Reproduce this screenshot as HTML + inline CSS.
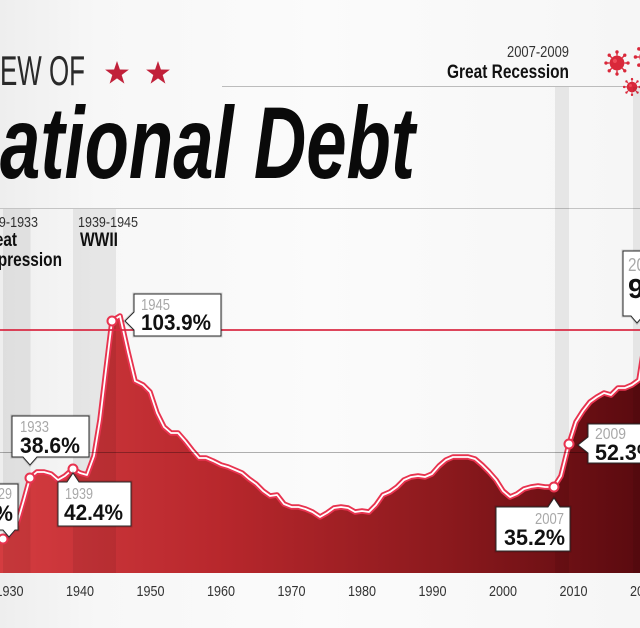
<!DOCTYPE html>
<html><head><meta charset="utf-8"><style>
html,body{margin:0;padding:0;background:#f7f7f7;}
svg{display:block;}
text{font-family:"Liberation Sans",Arial,sans-serif;}
</style></head><body>
<svg width="640" height="628" viewBox="0 0 640 628" xmlns="http://www.w3.org/2000/svg">
<defs>
<linearGradient id="bg" x1="0" y1="0" x2="1" y2="0">
<stop offset="0" stop-color="#eeeeee"/><stop offset="0.15" stop-color="#f7f7f7"/><stop offset="0.5" stop-color="#fbfbfb"/><stop offset="1" stop-color="#f6f6f6"/>
</linearGradient>
<linearGradient id="fill" x1="0" y1="0" x2="640" y2="0" gradientUnits="userSpaceOnUse">
<stop offset="0" stop-color="#d43c40"/><stop offset="0.35" stop-color="#b7272c"/><stop offset="0.7" stop-color="#8b191d"/><stop offset="1" stop-color="#5a0a0f"/>
</linearGradient>
<path id="ln" fill="none" d="M-10,541 L-5,540 L3,539 L10,534 L17,524 L24,500 L30,478 L37,472 L44,472 L51,474 L58,480 L65,476 L73,469 L80,473 L87,475 L94,456 L100,420 L106,370 L112,321 L120,316 L128,352 L135,381 L143,385 L150,392 L157,413 L164,427 L171,433 L178,433 L185,441 L192,450 L199,458 L206,458 L213,461 L221,465 L228,467 L235,470 L242,473 L249,479 L256,484 L263,491 L270,496 L277,495 L284,504 L291.5,507 L298.5,507 L305.5,509 L312.5,512 L320,517 L327,513 L334,508 L341,507 L348,508 L355,512 L362,511 L369,512 L376,505 L383,495 L390,492 L397,487 L404,480 L411,477 L418,476 L425,477 L432,474 L439,466 L446,460 L453,457 L461,457 L468,457 L475,459 L482,465 L489,472 L496,480 L503,491 L510,497 L517,494 L524,489 L531,487 L538,486 L545,487 L554,487 L561,476 L569,444 L576,422 L583,411 L590,402 L597,397 L604,393 L611,395 L618,388 L625,388 L632,385 L639,380 L646,335"/>
<g id="virus">
<circle r="7" fill="#d9283a"/>
<g stroke="#d9283a" stroke-width="1.3">
<line x1="0" y1="-7" x2="0" y2="-10"/><line x1="0" y1="7" x2="0" y2="10"/><line x1="-7" y1="0" x2="-10" y2="0"/><line x1="7" y1="0" x2="10" y2="0"/>
<line x1="5" y1="5" x2="7" y2="7"/><line x1="-5" y1="5" x2="-7" y2="7"/><line x1="5" y1="-5" x2="7" y2="-7"/><line x1="-5" y1="-5" x2="-7" y2="-7"/>
</g>
<g fill="#d9283a"><circle cx="0" cy="-10.5" r="1.6"/><circle cx="0" cy="10.5" r="1.6"/><circle cx="-10.5" cy="0" r="1.6"/><circle cx="10.5" cy="0" r="1.6"/><circle cx="7.4" cy="7.4" r="1.6"/><circle cx="-7.4" cy="7.4" r="1.6"/><circle cx="7.4" cy="-7.4" r="1.6"/><circle cx="-7.4" cy="-7.4" r="1.6"/></g>
<circle cx="-2" cy="-2" r="2" fill="#ee4a58"/>
</g>
</defs>
<rect width="640" height="628" fill="url(#bg)"/>

<!-- header -->
<text x="0" y="85" font-size="42" fill="#2a2a2a" textLength="85" lengthAdjust="spacingAndGlyphs">EW OF</text>
<polygon fill="#c1213a" points="117,61 119.9,69.5 128.9,69.6 121.7,75 124.4,83.6 117,78.4 109.6,83.6 112.3,75 105.1,69.6 114.1,69.5"/>
<polygon fill="#c1213a" points="158,61 160.9,69.5 169.9,69.6 162.7,75 165.4,83.6 158,78.4 150.6,83.6 153.3,75 146.1,69.6 155.1,69.5"/>
<line x1="222" y1="86.5" x2="640" y2="86.5" stroke="#bcbcbc" stroke-width="1"/>
<text x="0" y="178" font-size="102" font-weight="bold" font-style="italic" fill="#0a0a0a" textLength="415" lengthAdjust="spacingAndGlyphs">ational Debt</text>
<line x1="0" y1="208.5" x2="640" y2="208.5" stroke="#c4c4c4" stroke-width="1"/>

<text x="507" y="57" font-size="16" fill="#333" textLength="62" lengthAdjust="spacingAndGlyphs">2007-2009</text>
<text x="447" y="78" font-size="19" font-weight="bold" fill="#111" textLength="122" lengthAdjust="spacingAndGlyphs">Great Recession</text>

<g transform="translate(617,63) scale(1.05)"><use href="#virus"/></g>
<g transform="translate(647,57) scale(1.1)"><use href="#virus"/></g>
<g transform="translate(632,87) scale(0.75)"><use href="#virus"/></g>

<text x="-22" y="227" font-size="15" fill="#333" textLength="60" lengthAdjust="spacingAndGlyphs">1929-1933</text>
<text x="-23" y="246" font-size="19" font-weight="bold" fill="#111" textLength="40" lengthAdjust="spacingAndGlyphs">Great</text>
<text x="-22" y="266" font-size="19" font-weight="bold" fill="#111" textLength="84" lengthAdjust="spacingAndGlyphs">Depression</text>
<text x="78" y="227" font-size="15" fill="#333" textLength="60" lengthAdjust="spacingAndGlyphs">1939-1945</text>
<text x="80" y="246" font-size="19" font-weight="bold" fill="#111" textLength="38" lengthAdjust="spacingAndGlyphs">WWII</text>

<!-- area -->
<path fill="url(#fill)" d="M-10,573 L-10,541 L-5,540 L3,539 L10,534 L17,524 L24,500 L30,478 L37,472 L44,472 L51,474 L58,480 L65,476 L73,469 L80,473 L87,475 L94,456 L100,420 L106,370 L112,321 L120,316 L128,352 L135,381 L143,385 L150,392 L157,413 L164,427 L171,433 L178,433 L185,441 L192,450 L199,458 L206,458 L213,461 L221,465 L228,467 L235,470 L242,473 L249,479 L256,484 L263,491 L270,496 L277,495 L284,504 L291.5,507 L298.5,507 L305.5,509 L312.5,512 L320,517 L327,513 L334,508 L341,507 L348,508 L355,512 L362,511 L369,512 L376,505 L383,495 L390,492 L397,487 L404,480 L411,477 L418,476 L425,477 L432,474 L439,466 L446,460 L453,457 L461,457 L468,457 L475,459 L482,465 L489,472 L496,480 L503,491 L510,497 L517,494 L524,489 L531,487 L538,486 L545,487 L554,487 L561,476 L569,444 L576,422 L583,411 L590,402 L597,397 L604,393 L611,395 L618,388 L625,388 L632,385 L639,380 L646,335 L650,335 L650,573 Z"/>

<!-- bands (over background and fill) -->
<g fill="#000" fill-opacity="0.065">
<rect x="3" y="209" width="27.5" height="364"/>
<rect x="73" y="209" width="43" height="364"/>
<rect x="555" y="87" width="14" height="486"/>
<rect x="633" y="87" width="10" height="486"/>
</g>

<use href="#ln" stroke="#e8334f" stroke-width="5.5" stroke-linejoin="round"/>
<use href="#ln" stroke="#ffffff" stroke-width="1.8" stroke-linejoin="round"/>

<!-- reference lines -->
<line x1="0" y1="452.5" x2="640" y2="452.5" stroke="#000" stroke-opacity="0.3" stroke-width="1"/>
<line x1="0" y1="330" x2="640" y2="330" stroke="#d8263f" stroke-opacity="0.85" stroke-width="2"/>

<!-- axis labels -->
<g font-size="15" fill="#333" text-anchor="middle">
<text x="9.5" y="596" textLength="28" lengthAdjust="spacingAndGlyphs">1930</text>
<text x="80" y="596" textLength="28" lengthAdjust="spacingAndGlyphs">1940</text>
<text x="150.5" y="596" textLength="28" lengthAdjust="spacingAndGlyphs">1950</text>
<text x="221" y="596" textLength="28" lengthAdjust="spacingAndGlyphs">1960</text>
<text x="291.5" y="596" textLength="28" lengthAdjust="spacingAndGlyphs">1970</text>
<text x="362" y="596" textLength="28" lengthAdjust="spacingAndGlyphs">1980</text>
<text x="432.5" y="596" textLength="28" lengthAdjust="spacingAndGlyphs">1990</text>
<text x="503" y="596" textLength="28" lengthAdjust="spacingAndGlyphs">2000</text>
<text x="573.5" y="596" textLength="28" lengthAdjust="spacingAndGlyphs">2010</text>
<text x="644" y="596" textLength="28" lengthAdjust="spacingAndGlyphs">2020</text>
</g>

<!-- circles -->
<g fill="#fff" stroke="#e8334f" stroke-width="2">
<circle cx="3" cy="539" r="4.5"/>
<circle cx="30" cy="478" r="4.5"/>
<circle cx="73" cy="469" r="4.5"/>
<circle cx="112" cy="321" r="4.5"/>
<circle cx="554" cy="487" r="4.5"/>
<circle cx="569" cy="444" r="4.5"/>
</g>

<!-- callout boxes -->
<g fill="#fff" stroke-linejoin="miter">
<g stroke="#000" stroke-opacity="0.15" stroke-width="3">
<path d="M134,294 H221 V336 H134 V330 L125,321 L134,312 Z"/>
<path d="M12,416 H89 V457 H37 L30,465 L23,457 H12 Z"/>
<path d="M58,482 H67 L73,473 L79,482 H131 V526 H58 Z"/>
<path d="M-60,484 H18 V530 H15 L9,537 L3,530 H-60 Z"/>
<path d="M496,507 H548 L554,498 L560,507 H570 V551 H496 Z"/>
<path d="M588,424 H700 V463 H588 V453 L578,445 L588,437 Z"/>
<path d="M623,251 H720 V316 H643 L637,323 L631,316 H623 Z"/>
</g>
<g stroke="#2a2a2a" stroke-width="1">
<path d="M134,294 H221 V336 H134 V330 L125,321 L134,312 Z"/>
<path d="M12,416 H89 V457 H37 L30,465 L23,457 H12 Z"/>
<path d="M58,482 H67 L73,473 L79,482 H131 V526 H58 Z"/>
<path d="M-60,484 H18 V530 H15 L9,537 L3,530 H-60 Z"/>
<path d="M496,507 H548 L554,498 L560,507 H570 V551 H496 Z"/>
<path d="M588,424 H700 V463 H588 V453 L578,445 L588,437 Z"/>
<path d="M623,251 H720 V316 H643 L637,323 L631,316 H623 Z"/>
</g>
</g>

<g fill="#a8a8a8" font-size="16">
<text x="141" y="310" textLength="29" lengthAdjust="spacingAndGlyphs">1945</text>
<text x="20" y="432" textLength="29" lengthAdjust="spacingAndGlyphs">1933</text>
<text x="65" y="499" textLength="28" lengthAdjust="spacingAndGlyphs">1939</text>
<text x="12" y="499" text-anchor="end" textLength="28" lengthAdjust="spacingAndGlyphs">1929</text>
<text x="564" y="524" text-anchor="end" textLength="29" lengthAdjust="spacingAndGlyphs">2007</text>
<text x="595" y="439" textLength="31" lengthAdjust="spacingAndGlyphs">2009</text>
<text x="628" y="271" font-size="18" textLength="34" lengthAdjust="spacingAndGlyphs">2020</text>
</g>
<g fill="#111" font-size="22" font-weight="bold">
<text x="141" y="330" textLength="70" lengthAdjust="spacingAndGlyphs">103.9%</text>
<text x="20" y="453" textLength="60" lengthAdjust="spacingAndGlyphs">38.6%</text>
<text x="64" y="520" textLength="59" lengthAdjust="spacingAndGlyphs">42.4%</text>
<text x="13" y="521" text-anchor="end" textLength="60" lengthAdjust="spacingAndGlyphs">14.9%</text>
<text x="565" y="545" text-anchor="end" textLength="61" lengthAdjust="spacingAndGlyphs">35.2%</text>
<text x="595" y="460" textLength="61" lengthAdjust="spacingAndGlyphs">52.3%</text>
<text x="628" y="298" font-size="28" textLength="80" lengthAdjust="spacingAndGlyphs">98.2%</text>
</g>
</svg>
</body></html>
